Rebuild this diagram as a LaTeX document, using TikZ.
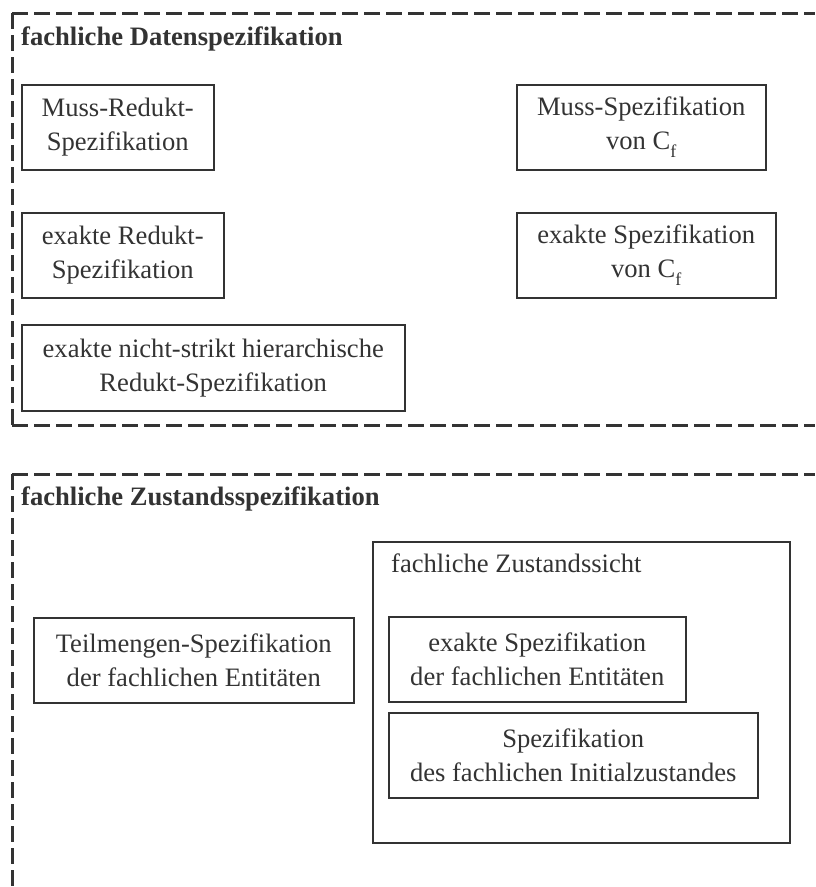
\documentclass[tikz,border=0pt]{standalone}
\usepackage{fontspec}
\setmainfont{Liberation Serif}
\definecolor{inkgray}{HTML}{333333}
% subscript index, set lower than \textsubscript does
\newcommand{\lowidx}[1]{\raisebox{-0.3em}{\fontsize{18}{18}\selectfont #1}}
\begin{document}
\begin{tikzpicture}[x=1pt,y=-1pt,
  frameline/.style={draw=inkgray, line width=3pt, dash pattern=on 16pt off 6pt},
  specbox/.style={draw=inkgray, line width=1.5pt, text=inkgray,
    font=\fontsize{26.6}{34}\selectfont, align=center, inner sep=0pt,
    anchor=north west},
  heading/.style={text=inkgray, font=\fontsize{26.6}{34}\selectfont\bfseries,
    inner sep=0pt, anchor=base west},
  caption/.style={text=inkgray, font=\fontsize{26.6}{34}\selectfont,
    inner sep=0pt, anchor=base west}]
  \useasboundingbox (0,0) rectangle (815,887);

  % frame: fachliche Datenspezifikation
  \coordinate (d1) at (12,13);
  \coordinate (d2) at (815,13);
  \coordinate (d3) at (12,425);
  \coordinate (d4) at (815,425);
  \draw[frameline] (d1) -- (d2);
  \draw[frameline] (d1) -- (d3);
  \draw[frameline] (d3) -- (d4);
  \node[heading] (dtitle) at (21,45) {fachliche Datenspezifikation};

  \node[specbox, minimum width=192pt, minimum height=85pt] (mr) at (21,84)
    {Muss-Redukt-\\Spezifikation};
  \node[specbox, minimum width=249pt, minimum height=85pt] (ms) at (516,84)
    {Muss-Spezifikation\\von C\lowidx{f}};
  \node[specbox, minimum width=202pt, minimum height=85pt] (er) at (21,212)
    {exakte Redukt-\\Spezifikation};
  \node[specbox, minimum width=259pt, minimum height=85pt] (es) at (516,212)
    {exakte Spezifikation\\von C\lowidx{f}};
  \node[specbox, minimum width=383pt, minimum height=86pt] (en) at (21,324)
    {exakte nicht-strikt hierarchische\\Redukt-Spezifikation};

  % frame: fachliche Zustandsspezifikation
  \coordinate (z1) at (12,474);
  \coordinate (z2) at (815,474);
  \coordinate (z3) at (12,887);
  \draw[frameline] (z1) -- (z2);
  \draw[frameline] (z1) -- (z3);
  \node[heading] (ztitle) at (21,505) {fachliche Zustandsspezifikation};

  \node[specbox, minimum width=320pt, minimum height=85pt] (tm) at (33,617)
    {Teilmengen-Spezifikation\\der fachlichen Entitäten};
  \node[specbox, minimum width=417pt, minimum height=301pt] (zs) at (372,541) {};
  \node[caption] (zslabel) at (391,572) {fachliche Zustandssicht};
  \node[specbox, minimum width=297pt, minimum height=85pt] (ee) at (388,616)
    {exakte Spezifikation\\der fachlichen Entitäten};
  \node[specbox, minimum width=369pt, minimum height=85pt] (ei) at (388,712)
    {Spezifikation\\des fachlichen Initialzustandes};
\end{tikzpicture}
\end{document}
